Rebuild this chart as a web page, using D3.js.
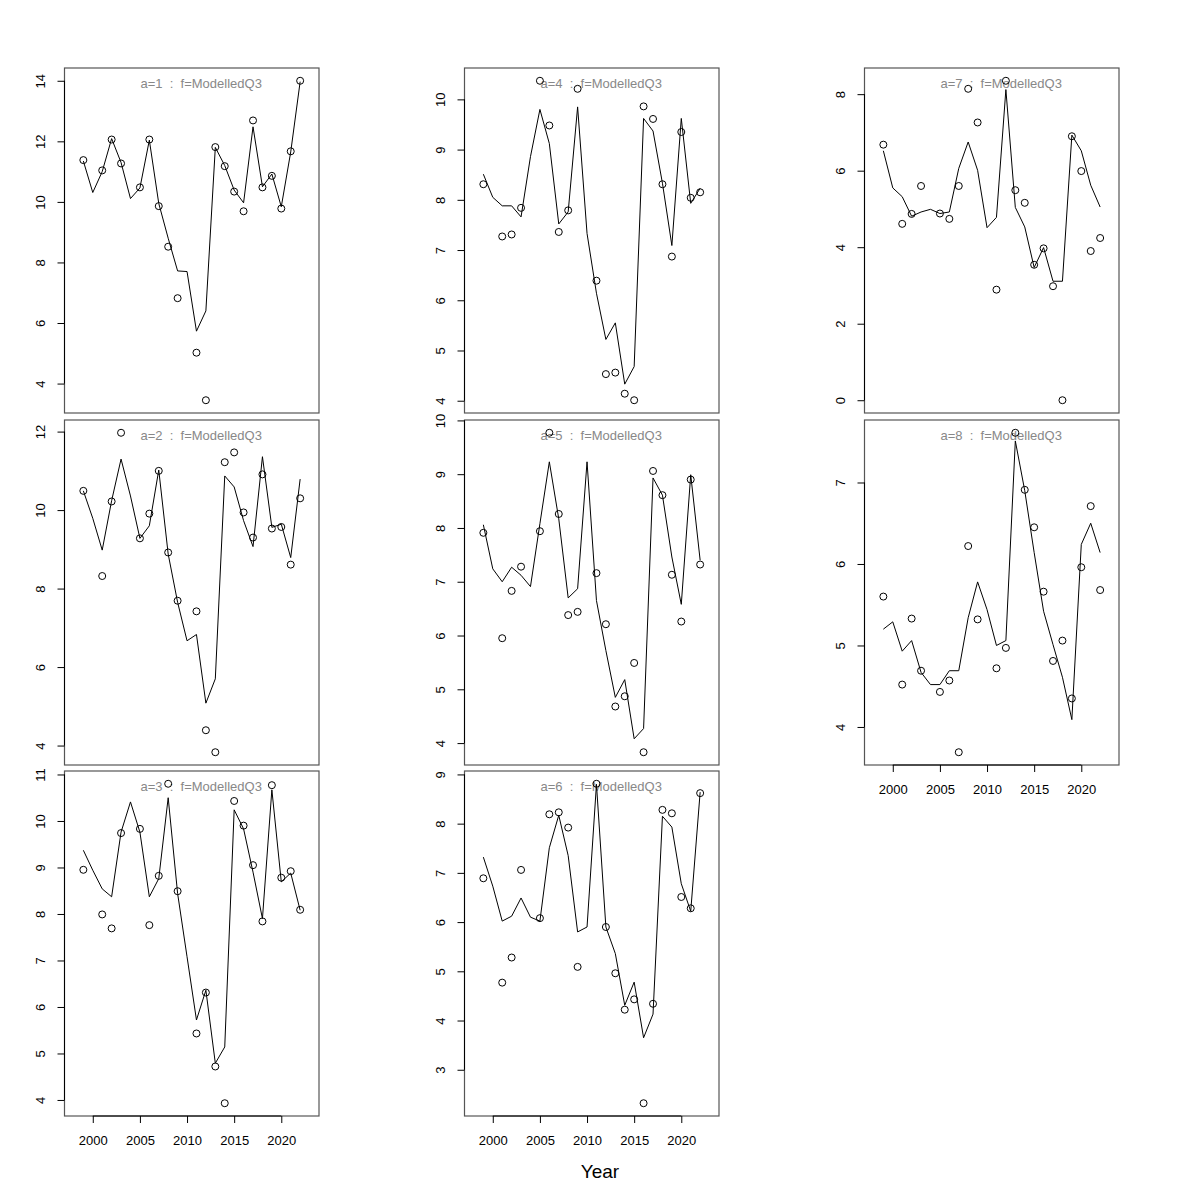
<!DOCTYPE html>
<html>
<head>
<meta charset="utf-8">
<script src="https://cdn.jsdelivr.net/npm/d3@7"></script>
<style>
  html, body { margin: 0; padding: 0; background: #fff; }
  svg { display: block; font-family: "Liberation Sans", Arial, Helvetica, sans-serif; }
</style>
</head>
<body>
<svg id="chart" width="1200" height="1200"></svg>
<script>
const years = d3.range(1999, 2023);
const xTicks = [2000, 2005, 2010, 2015, 2020];
const xLabel = "Year";
const panelNames = ["a=1", "a=2", "a=3", "a=4", "a=5", "a=6", "a=7", "a=8"];
const fName = "f=ModelledQ3";

const obs1 = [11.38, null, 11.04, 12.06, 11.27, null, 10.48, 12.06, 9.86, 8.52, 6.82, null, 5.02, 3.45, 11.81, 11.18, 10.34, 9.69, 12.69, 10.48, 10.86, 9.78, 11.67, 14.0];
const mod1 = [11.35, 10.31, 11.0, 12.09, 11.3, 10.11, 10.46, 12.04, 9.95, 8.8, 7.72, 7.70, 5.73, 6.4, 11.8, 11.2, 10.39, 9.97, 12.48, 10.5, 10.92, 9.84, 11.65, 13.97];
const obs2 = [10.49, null, 8.32, 10.22, 11.97, null, 9.28, 9.91, 11.0, 8.92, 7.69, null, 7.42, 4.39, 3.83, 11.22, 11.47, 9.94, 9.30, 10.91, 9.53, 9.57, 8.61, 10.3];
const mod2 = [10.49, 9.79, 8.98, 10.24, 11.3, 10.36, 9.28, 9.6, 11.02, 8.88, 7.65, 6.67, 6.83, 5.08, 5.7, 10.87, 10.59, 9.73, 9.07, 11.36, 9.56, 9.64, 8.79, 10.79];
const obs3 = [8.95, null, 7.99, 7.69, 9.74, null, 9.83, 7.76, 8.82, 10.8, 8.49, null, 5.43, 6.31, 4.72, 3.93, 10.43, 9.9, 9.05, 7.84, 10.77, 8.78, 8.92, 8.09];
const mod3 = [9.37, 8.94, 8.54, 8.37, 9.76, 10.41, 9.76, 8.37, 8.76, 10.5, 8.44, 7.08, 5.72, 6.36, 4.79, 5.14, 10.24, 9.83, 8.9, 7.9, 10.67, 8.69, 8.88, 8.08];
const obs4 = [8.31, null, 7.27, 7.31, 7.84, null, 10.37, 9.48, 7.36, 7.79, 10.21, null, 6.39, 4.53, 4.56, 4.14, 4.01, 9.86, 9.61, 8.31, 6.87, 9.35, 8.04, 8.15];
const mod4 = [8.51, 8.05, 7.88, 7.88, 7.66, 8.86, 9.8, 9.12, 7.52, 7.76, 9.85, 7.33, 6.14, 5.22, 5.55, 4.33, 4.68, 9.62, 9.37, 8.33, 7.09, 9.62, 7.93, 8.23];
const obs5 = [7.91, null, 5.95, 6.83, 7.28, null, 7.94, 9.77, 8.26, 6.38, 6.44, null, 7.16, 6.21, 4.68, 4.87, 5.49, 3.83, 9.06, 8.61, 7.13, 6.26, 8.9, 7.32];
const mod5 = [8.06, 7.24, 7.0, 7.27, 7.12, 6.91, 8.08, 9.23, 8.17, 6.70, 6.87, 9.23, 6.65, 5.72, 4.85, 5.18, 4.08, 4.27, 8.93, 8.61, 7.46, 6.58, 8.99, 7.4];
const obs6 = [6.89, null, 4.77, 5.28, 7.06, null, 6.08, 8.19, 8.23, 7.92, 5.09, null, 8.81, 5.9, 4.96, 4.22, 4.43, 2.32, 4.34, 8.28, 8.21, 6.51, 6.28, 8.62];
const mod6 = [7.32, 6.73, 6.02, 6.12, 6.49, 6.1, 6.02, 7.51, 8.17, 7.35, 5.8, 5.9, 8.8, 5.9, 5.36, 4.31, 4.78, 3.65, 4.13, 8.15, 7.93, 6.78, 6.22, 8.64];
const obs7 = [6.68, null, 4.61, 4.87, 5.60, null, 4.88, 4.74, 5.60, 8.14, 7.26, null, 2.89, 8.35, 5.49, 5.16, 3.54, 3.97, 2.98, 0.0, 6.9, 5.99, 3.9, 4.24];
const mod7 = [6.52, 5.55, 5.32, 4.81, 4.92, 4.99, 4.88, 4.92, 6.06, 6.75, 6.01, 4.51, 4.78, 8.12, 5.04, 4.53, 3.47, 3.99, 3.11, 3.11, 6.93, 6.52, 5.62, 5.05];
const obs8 = [5.60, null, 4.52, 5.33, 4.69, null, 4.43, 4.57, 3.69, 6.22, 5.32, null, 4.72, 4.97, 7.61, 6.91, 6.45, 5.66, 4.81, 5.06, 4.35, 5.96, 6.71, 5.68];
const mod8 = [5.2, 5.29, 4.93, 5.06, 4.67, 4.52, 4.52, 4.69, 4.69, 5.34, 5.78, 5.44, 5.0, 5.06, 7.51, 6.9, 6.14, 5.42, 5.01, 4.61, 4.09, 6.24, 6.5, 6.14];

const yTicks1 = [4, 6, 8, 10, 12, 14];
const yTicks2 = [4, 6, 8, 10, 12];
const yTicks3 = [4, 5, 6, 7, 8, 9, 10, 11];
const yTicks4 = [4, 5, 6, 7, 8, 9, 10];
const yTicks5 = [4, 5, 6, 7, 8, 9, 10];
const yTicks6 = [3, 4, 5, 6, 7, 8, 9];
const yTicks7 = [0, 2, 4, 6, 8];
const yTicks8 = [4, 5, 6, 7];

const panels = [
  {name: panelNames[0], obs: obs1, mod: mod1, yt: yTicks1, col: 0, row: 0, xaxis: false},
  {name: panelNames[1], obs: obs2, mod: mod2, yt: yTicks2, col: 0, row: 1, xaxis: false},
  {name: panelNames[2], obs: obs3, mod: mod3, yt: yTicks3, col: 0, row: 2, xaxis: true},
  {name: panelNames[3], obs: obs4, mod: mod4, yt: yTicks4, col: 1, row: 0, xaxis: false},
  {name: panelNames[4], obs: obs5, mod: mod5, yt: yTicks5, col: 1, row: 1, xaxis: false},
  {name: panelNames[5], obs: obs6, mod: mod6, yt: yTicks6, col: 1, row: 2, xaxis: true},
  {name: panelNames[6], obs: obs7, mod: mod7, yt: yTicks7, col: 2, row: 0, xaxis: false},
  {name: panelNames[7], obs: obs8, mod: mod8, yt: yTicks8, col: 2, row: 1, xaxis: true}
];

const svg = d3.select("#chart");
const colX = [64.5, 464.5, 864.5];
const rowY = [68, 420, 771];
const pw = 254.5, ph = 345;
const tickFont = 13;

panels.forEach(p => {
  const g = svg.append("g").attr("transform", `translate(${colX[p.col]},${rowY[p.row]})`);
  const x = d3.scaleLinear().domain([1997, 2024]).range([0, pw]);
  const all = p.obs.filter(v => v !== null).concat(p.mod);
  const lo = d3.min(all), hi = d3.max(all), ext = (hi - lo) * 0.04;
  const y = d3.scaleLinear().domain([lo - ext, hi + ext]).range([ph, 0]);

  // box
  g.append("rect").attr("x", 0).attr("y", 0).attr("width", pw).attr("height", ph)
    .attr("fill", "none").attr("stroke", "#555").attr("stroke-width", 1.2);

  // y axis
  const ya = g.append("g").call(d3.axisLeft(y).tickValues(p.yt).tickSize(7).tickSizeOuter(0).tickFormat(d3.format("d")));
  ya.select(".domain").remove();
  ya.append("line").attr("x1", 0).attr("x2", 0)
    .attr("y1", y(p.yt[0])).attr("y2", y(p.yt[p.yt.length - 1]))
    .attr("stroke", "#000");
  ya.selectAll(".tick text")
    .attr("font-size", tickFont).attr("font-family", "Liberation Sans, Arial, sans-serif")
    .attr("fill", "#000")
    .attr("transform", "rotate(-90)")
    .attr("x", 0).attr("y", -19.3).attr("dy", 0)
    .attr("text-anchor", "middle");

  if (p.xaxis) {
    const xa = g.append("g").attr("transform", `translate(0,${ph})`)
      .call(d3.axisBottom(x).tickValues(xTicks).tickSize(7).tickSizeOuter(0).tickFormat(d3.format("d")));
    xa.select(".domain").remove();
    xa.append("line").attr("y1", 0).attr("y2", 0)
      .attr("x1", x(xTicks[0])).attr("x2", x(xTicks[xTicks.length - 1])).attr("stroke", "#000");
    xa.selectAll(".tick text")
      .attr("font-size", tickFont).attr("font-family", "Liberation Sans, Arial, sans-serif")
      .attr("fill", "#000").attr("y", 28.7).attr("dy", 0);
  }

  // title
  g.append("text")
    .attr("x", x(2011.5)).attr("y", 20)
    .attr("text-anchor", "middle")
    .attr("font-size", 13)
    .attr("fill", "#888")
    .style("white-space", "pre")
    .text(`${p.name}  :  ${fName}`);

  // modelled line
  const line = d3.line().x((d, i) => x(years[i])).y(d => y(d));
  g.append("path").datum(p.mod).attr("d", line)
    .attr("fill", "none").attr("stroke", "#000").attr("stroke-width", 1);

  // observed points
  const pts = years.map((yr, i) => ({yr, v: p.obs[i]})).filter(d => d.v !== null);
  g.selectAll("circle.pt").data(pts).enter().append("circle")
    .attr("class", "pt")
    .attr("cx", d => x(d.yr)).attr("cy", d => y(d.v)).attr("r", 3.5)
    .attr("fill", "none").attr("stroke", "#000").attr("stroke-width", 1);
});

svg.append("text").attr("x", 600).attr("y", 1178)
  .attr("text-anchor", "middle").attr("font-size", 19).attr("fill", "#000")
  .text(xLabel);
</script>
</body>
</html>
